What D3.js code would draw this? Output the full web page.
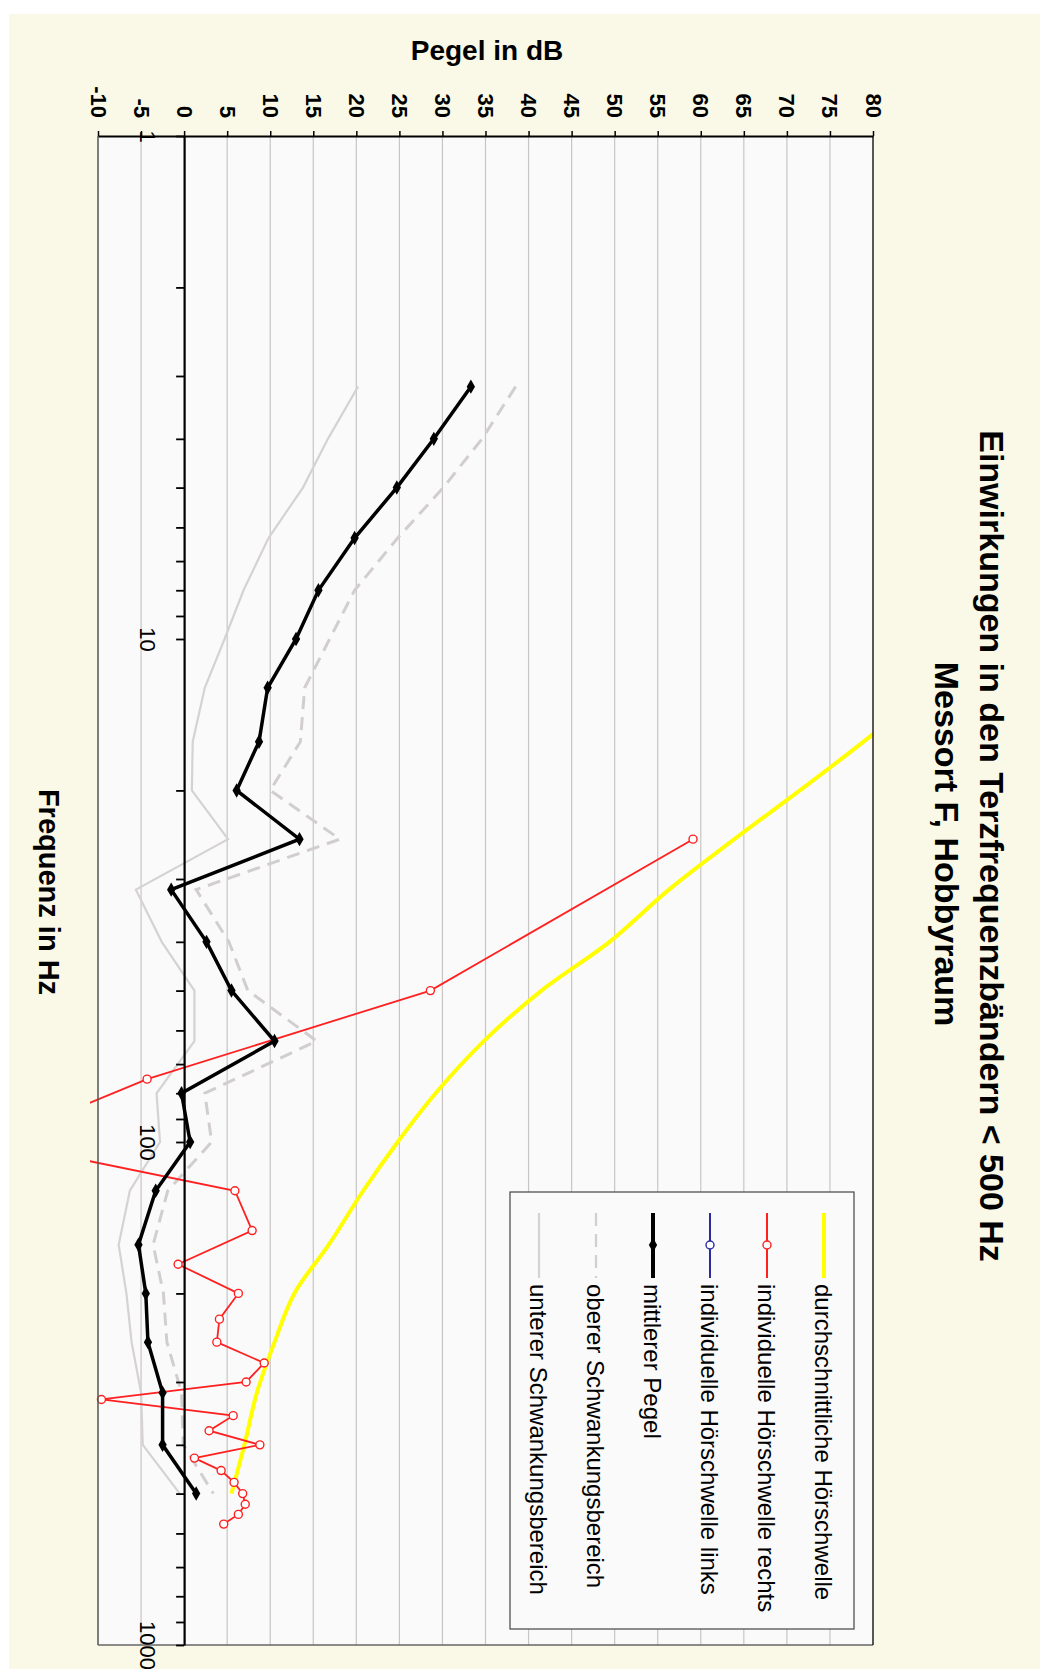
<!DOCTYPE html>
<html>
<head>
<meta charset="utf-8">
<script src="https://cdn.jsdelivr.net/npm/d3@7"></script>
<style>
  body { margin: 0; background: #ffffff; }
  svg { display: block; font-family: "Liberation Sans", Arial, Helvetica, sans-serif; }
</style>
</head>
<body>
<svg id="chart" width="1040" height="1669"></svg>
<script>
// Third-octave band centre frequencies (Hz)
const bandFreqs = [3.15, 4, 5, 6.3, 8, 10, 12.5, 16, 20, 25, 31.5, 40, 50, 63, 80, 100, 125, 160, 200, 250, 315, 400, 500];

// Mean level and the fluctuation band (dB)
const meanLevel  = [33.3, 29.0, 24.7, 19.8, 15.6, 13.0, 9.7, 8.7, 6.1, 13.4, -1.5, 2.6, 5.5, 10.5, -0.3, 0.7, -3.3, -5.3, -4.45, -4.2, -2.5, -2.5, 1.4];
const upperRange = [38.5, 34.6, 30.1, 24.8, 19.8, 16.9, 14.0, 13.5, 10.0, 18.1, 1.4, 5.2, 7.4, 15.4, 2.4, 3.2, -1.9, -3.6, -2.4, -2.0, -0.3, -0.1, 3.4];
const lowerRange = [20.2, 16.7, 13.8, 9.8, 6.9, 4.7, 2.4, 1.0, 0.9, 5.1, -5.6, -2.6, 1.2, 1.2, -3.2, -2.8, -6.3, -7.6, -6.7, -6.1, -5.0, -4.8, -0.5];

// Average hearing threshold (dB)
const thresholdFreqs = [10, 12.5, 16, 20, 25, 31.5, 40, 50, 63, 80, 100, 125, 160, 200, 250, 315, 400, 500];
const thresholdAvg   = [93, 86.5, 78.9, 71.5, 63.9, 56.3, 49.4, 41.5, 34.8, 29.2, 24.8, 20.8, 16.8, 12.8, 10.5, 8.45, 7.0, 5.5];

// Individual hearing threshold, right ear (dB)
const rightFreqs = [25, 50, 75, 100, 125, 150, 175, 200, 225, 250, 275, 300, 325, 350, 375, 400, 425, 450, 475, 500, 525, 550, 575];
const rightEar   = [59.1, 28.6, -4.3, -21.9, 5.9, 7.9, -0.7, 6.3, 4.1, 3.8, 9.3, 7.2, -9.6, 5.7, 2.9, 8.8, 1.2, 4.3, 5.8, 6.8, 7.1, 6.3, 4.6];

// Individual hearing threshold, left ear (no readings)
const leftFreqs = [];
const leftEar   = [];

// Axis ticks
const levelTicks = d3.range(-10, 81, 5);
const freqLabelTicks = [1, 10, 100, 1000];

const titleLines = ["Einwirkungen in den Terzfrequenzbändern < 500 Hz", "Messort F, Hobbyraum"];
const legendLabels = [
  "durchschnittliche Hörschwelle",
  "individuelle Hörschwelle rechts",
  "individuelle Hörschwelle links",
  "mittlerer Pegel",
  "oberer Schwankungsbereich",
  "unterer Schwankungsbereich"
];

const W = 1040, H = 1669;
const plot = { left: 98, right: 873, top: 136, bottom: 1645 };

const svg = d3.select("#chart");

// background panel and plot area
svg.append("rect").attr("x", 9).attr("y", 14).attr("width", W - 9).attr("height", H - 14).attr("fill", "#faf9e7");
svg.append("rect").attr("x", plot.left).attr("y", plot.top)
  .attr("width", plot.right - plot.left).attr("height", plot.bottom - plot.top).attr("fill", "#fafafa");

// level runs left to right, frequency (log) runs top to bottom
const x = d3.scaleLinear().domain([-10, 80]).range([plot.left, plot.right]);
const y = d3.scaleLog().domain([1, 1000]).range([plot.top, plot.bottom]);

// vertical grid lines every 5 dB
svg.append("g").selectAll("line")
  .data(levelTicks.filter(d => d !== 0 && d !== -10 && d !== 80))
  .join("line")
  .attr("x1", d => x(d)).attr("x2", d => x(d))
  .attr("y1", plot.top).attr("y2", plot.bottom)
  .attr("stroke", "#c9c5c5").attr("stroke-width", 1.2);

// clip for the series
svg.append("defs").append("clipPath").attr("id", "plotClip")
  .append("rect").attr("x", plot.left - 8).attr("y", plot.top)
  .attr("width", plot.right - plot.left + 8).attr("height", plot.bottom - plot.top);

const series = svg.append("g").attr("clip-path", "url(#plotClip)");

const zip = (fs, vs) => fs.map((f, i) => ({ f, v: vs[i] }));
const line = d3.line().x(d => x(d.v)).y(d => y(d.f));

// lower fluctuation bound
series.append("path").datum(zip(bandFreqs, lowerRange))
  .attr("d", line).attr("fill", "none").attr("stroke", "#d6d2d2").attr("stroke-width", 2.2);

// upper fluctuation bound
series.append("path").datum(zip(bandFreqs, upperRange))
  .attr("d", line).attr("fill", "none").attr("stroke", "#d2cece").attr("stroke-width", 3)
  .attr("stroke-dasharray", "13,8");

// average hearing threshold (smoothed)
series.append("path").datum(zip(thresholdFreqs, thresholdAvg))
  .attr("d", d3.line().x(d => x(d.v)).y(d => y(d.f)).curve(d3.curveCatmullRom.alpha(0.5)))
  .attr("fill", "none").attr("stroke", "#ffff00").attr("stroke-width", 4);

// individual threshold, right ear
const rightData = zip(rightFreqs, rightEar);
series.append("path").datum(rightData)
  .attr("d", line).attr("fill", "none").attr("stroke", "#ff2020").attr("stroke-width", 1.8);
series.append("g").selectAll("circle").data(rightData).join("circle")
  .attr("cx", d => x(d.v)).attr("cy", d => y(d.f)).attr("r", 4)
  .attr("fill", "#ffffff").attr("stroke", "#ff2020").attr("stroke-width", 1.4);

// individual threshold, left ear
const leftData = zip(leftFreqs, leftEar);
series.append("path").datum(leftData)
  .attr("d", leftData.length ? line : null).attr("fill", "none").attr("stroke", "#2c2ca0").attr("stroke-width", 1.8);

// mean level
const meanData = zip(bandFreqs, meanLevel);
series.append("path").datum(meanData)
  .attr("d", line).attr("fill", "none").attr("stroke", "#000").attr("stroke-width", 3.5);
series.append("g").selectAll("path").data(meanData).join("path")
  .attr("transform", d => `translate(${x(d.v)},${y(d.f)})`)
  .attr("d", d3.symbol(d3.symbolDiamond, 60)).attr("fill", "#000");

// plot frame
svg.append("line").attr("x1", plot.left).attr("x2", plot.left).attr("y1", plot.top).attr("y2", plot.bottom)
  .attr("stroke", "#555").attr("stroke-width", 1.5);
svg.append("line").attr("x1", plot.left).attr("x2", plot.right).attr("y1", plot.bottom).attr("y2", plot.bottom)
  .attr("stroke", "#666").attr("stroke-width", 1.5);
svg.append("line").attr("x1", plot.right).attr("x2", plot.right).attr("y1", plot.top).attr("y2", plot.bottom)
  .attr("stroke", "#222").attr("stroke-width", 1.5);

// level axis along the top
const gx = svg.append("g").attr("transform", `translate(0,${plot.top})`)
  .call(d3.axisTop(x).tickValues(levelTicks).tickSize(5).tickSizeOuter(0).tickFormat(d => String(d)));
gx.attr("font-size", null).attr("font-family", null);
gx.select(".domain").attr("stroke", "#000").attr("stroke-width", 2);
gx.selectAll(".tick line").attr("stroke", "#000").attr("stroke-width", 1.5);
gx.selectAll(".tick text")
  .attr("x", 0).attr("y", 0).attr("dy", null)
  .attr("transform", "translate(-8,-18) rotate(90)")
  .attr("text-anchor", "end")
  .attr("fill", "#000")
  .style("font-size", "22px").style("font-weight", "bold");

// frequency axis along 0 dB
const freqTicks = [];
[1, 10, 100].forEach(dec => { for (let k = 1; k <= 9; k++) freqTicks.push(k * dec); });
freqTicks.push(1000);
const gy = svg.append("g").attr("transform", `translate(${x(0)},0)`)
  .call(d3.axisLeft(y).tickValues(freqTicks).tickSize(8).tickSizeOuter(0)
    .tickFormat(d => freqLabelTicks.includes(d) ? String(d) : ""));
gy.attr("font-size", null).attr("font-family", null);
gy.select(".domain").attr("stroke", "#000").attr("stroke-width", 2.2);
gy.selectAll(".tick line").attr("stroke", "#000").attr("stroke-width", 1.8);
gy.selectAll(".tick text")
  .attr("x", 0).attr("y", 0).attr("dy", null)
  .attr("transform", "translate(-44,0) rotate(90)")
  .attr("text-anchor", "middle")
  .attr("fill", "#000")
  .style("font-size", "22px");

// axis titles
svg.append("text").attr("x", 487).attr("y", 60).attr("text-anchor", "middle")
  .style("font-size", "28px").style("font-weight", "bold").text("Pegel in dB");
svg.append("text").attr("transform", "translate(39,892) rotate(90)").attr("text-anchor", "middle")
  .style("font-size", "29px").style("font-weight", "bold").text("Frequenz in Hz");

// chart title
svg.append("text").attr("transform", "translate(980,846) rotate(90)").attr("text-anchor", "middle")
  .style("font-size", "34px").style("font-weight", "bold").text(titleLines[0]);
svg.append("text").attr("transform", "translate(935,844) rotate(90)").attr("text-anchor", "middle")
  .style("font-size", "34px").style("font-weight", "bold").text(titleLines[1]);

// legend
const legend = svg.append("g");
legend.append("rect").attr("x", 510).attr("y", 1192).attr("width", 344).attr("height", 437)
  .attr("fill", "#fafafa").attr("stroke", "#444").attr("stroke-width", 1.2);
const legendStyles = [
  { color: "#ffff00", width: 4,   dash: null,  marker: null },
  { color: "#ff2020", width: 2,   dash: null,  marker: "open" },
  { color: "#2c2ca0", width: 2,   dash: null,  marker: "open" },
  { color: "#000000", width: 4,   dash: null,  marker: "filled" },
  { color: "#d2cece", width: 2.2, dash: "13,8", marker: null },
  { color: "#d6d2d2", width: 2.2, dash: null,  marker: null }
];
const legendX = d3.scaleLinear().domain([0, legendLabels.length - 1]).range([824, 539]);
legendLabels.forEach((label, i) => {
  const lx = legendX(i), st = legendStyles[i];
  legend.append("line").attr("x1", lx).attr("x2", lx).attr("y1", 1213).attr("y2", 1278)
    .attr("stroke", st.color).attr("stroke-width", st.width).attr("stroke-dasharray", st.dash);
  if (st.marker === "open") {
    legend.append("circle").attr("cx", lx).attr("cy", 1245).attr("r", 4)
      .attr("fill", "#fff").attr("stroke", st.color).attr("stroke-width", 1.4);
  } else if (st.marker === "filled") {
    legend.append("path").attr("transform", `translate(${lx},1245)`)
      .attr("d", d3.symbol(d3.symbolDiamond, 60)).attr("fill", st.color);
  }
  legend.append("text").attr("transform", `translate(${lx - 9},1284) rotate(90)`)
    .attr("text-anchor", "start").style("font-size", "24px").attr("fill", "#000").text(label);
});
</script>
</body>
</html>
